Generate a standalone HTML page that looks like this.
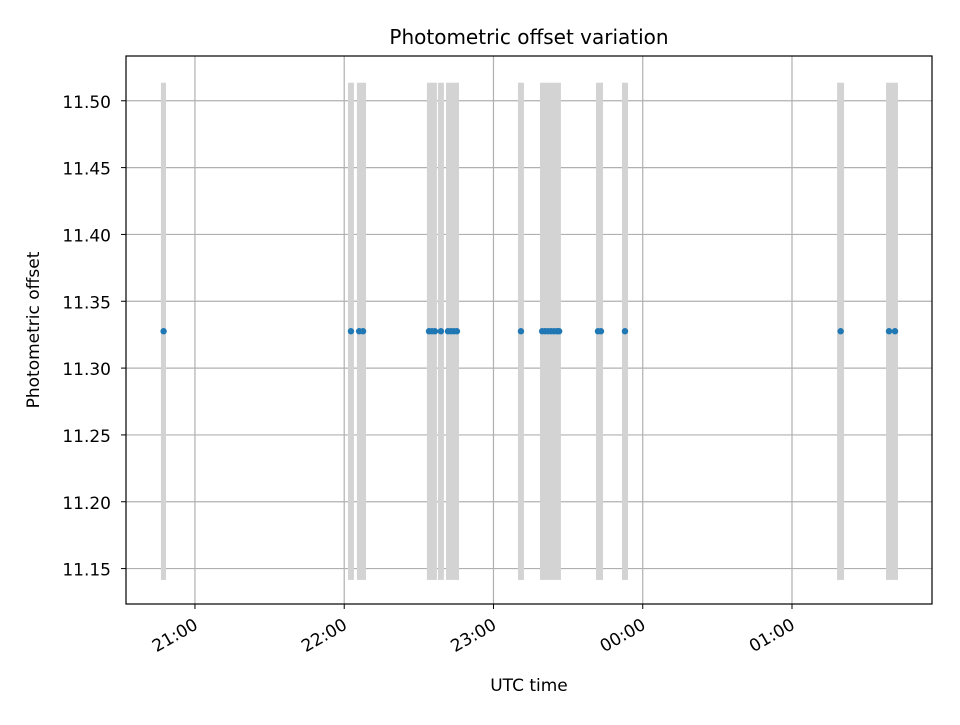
<!DOCTYPE html>
<html><head><meta charset="utf-8"><style>
body{margin:0;background:#fff;font-family:"Liberation Sans","DejaVu Sans",sans-serif}
</style></head><body>
<svg width="960" height="720" xmlns="http://www.w3.org/2000/svg" font-family="DejaVu Sans, Liberation Sans, sans-serif">
<rect width="960" height="720" fill="#fff"/>
<g id="plot"></g>
<script>
const bandStarts=[20.772,22.025,22.085,22.554,22.628,22.682,23.164,23.312,23.687,23.861,25.302,25.630];
const bandEnds=[20.806,22.065,22.146,22.621,22.668,22.769,23.204,23.452,23.734,23.901,25.349,25.710];
const pointTimes=[20.790,22.045,22.100,22.126,22.568,22.588,22.608,22.648,22.695,22.715,22.735,22.755,23.184,23.326,23.346,23.366,23.386,23.406,23.426,23.440,23.700,23.720,23.881,25.326,25.650,25.690];
const pointValues=[11.3276,11.3276,11.3276,11.3276,11.3276,11.3276,11.3276,11.3276,11.3276,11.3276,11.3276,11.3276,11.3276,11.3276,11.3276,11.3276,11.3276,11.3276,11.3276,11.3276,11.3276,11.3276,11.3276,11.3276,11.3276,11.3276];
const yTicks=[11.15,11.20,11.25,11.30,11.35,11.40,11.45,11.50];
const xTicks=[21,22,23,24,25];
const xTickLabels=["21:00","22:00","23:00","00:00","01:00"];
const bandLow=11.1415, bandHigh=11.5135;

const L=126,R=932,T=56,B=604;
const xMin=20.538,xMax=25.938;
const yMin=11.1235,yMax=11.5335;
const X=h=>L+(h-xMin)/(xMax-xMin)*(R-L);
const Y=v=>B-(v-yMin)/(yMax-yMin)*(B-T);
const NS="http://www.w3.org/2000/svg";
const g=document.getElementById('plot');
function mk(tag,attrs,parent){const e=document.createElementNS(NS,tag);for(const k in attrs)e.setAttribute(k,attrs[k]);(parent||g).appendChild(e);return e;}
xTicks.forEach(t=>{const e=mk('line',{x1:X(t),x2:X(t),y1:T,y2:B,stroke:'#b0b0b0','stroke-width':1.2});

});
yTicks.forEach(t=>{const e=mk('line',{x1:L,x2:R,y1:Y(t),y2:Y(t),stroke:'#b0b0b0','stroke-width':1.2});

});
bandStarts.forEach((s,i)=>{const e=mk('rect',{x:X(s),y:Y(bandHigh),width:X(bandEnds[i])-X(s),height:Y(bandLow)-Y(bandHigh),fill:'#d3d3d3'});

});
pointTimes.forEach((t,i)=>{const e=mk('circle',{cx:X(t),cy:Y(pointValues[i]),r:3.2,fill:'#1f77b4'});

});
const f=mk('rect',{x:L,y:T,width:R-L,height:B-T,fill:'none',stroke:'#000','stroke-width':1.2});


yTicks.forEach(t=>{mk('line',{x1:L-5,x2:L,y1:Y(t),y2:Y(t),stroke:'#000'});
const tx=mk('text',{x:L-15,y:Y(t)+7,'text-anchor':'end','font-size':17,fill:'#000'});tx.textContent=t.toFixed(2);

});
xTicks.forEach((t,i)=>{mk('line',{x1:X(t),x2:X(t),y1:B,y2:B+5,stroke:'#000'});
const ax=X(t)+4, ay=B+24;
const tx=mk('text',{x:ax,y:ay,'text-anchor':'end','font-size':17,fill:'#000',transform:`rotate(-30 ${ax} ${ay})`});tx.textContent=xTickLabels[i];

});
</script>
<text x="529" y="44" text-anchor="middle" font-size="20">Photometric offset variation</text>
<text x="529" y="691" text-anchor="middle" font-size="17">UTC time</text>
<text x="39" y="330" text-anchor="middle" font-size="17" transform="rotate(-90 39 330)">Photometric offset</text>
</svg>
</body></html>
